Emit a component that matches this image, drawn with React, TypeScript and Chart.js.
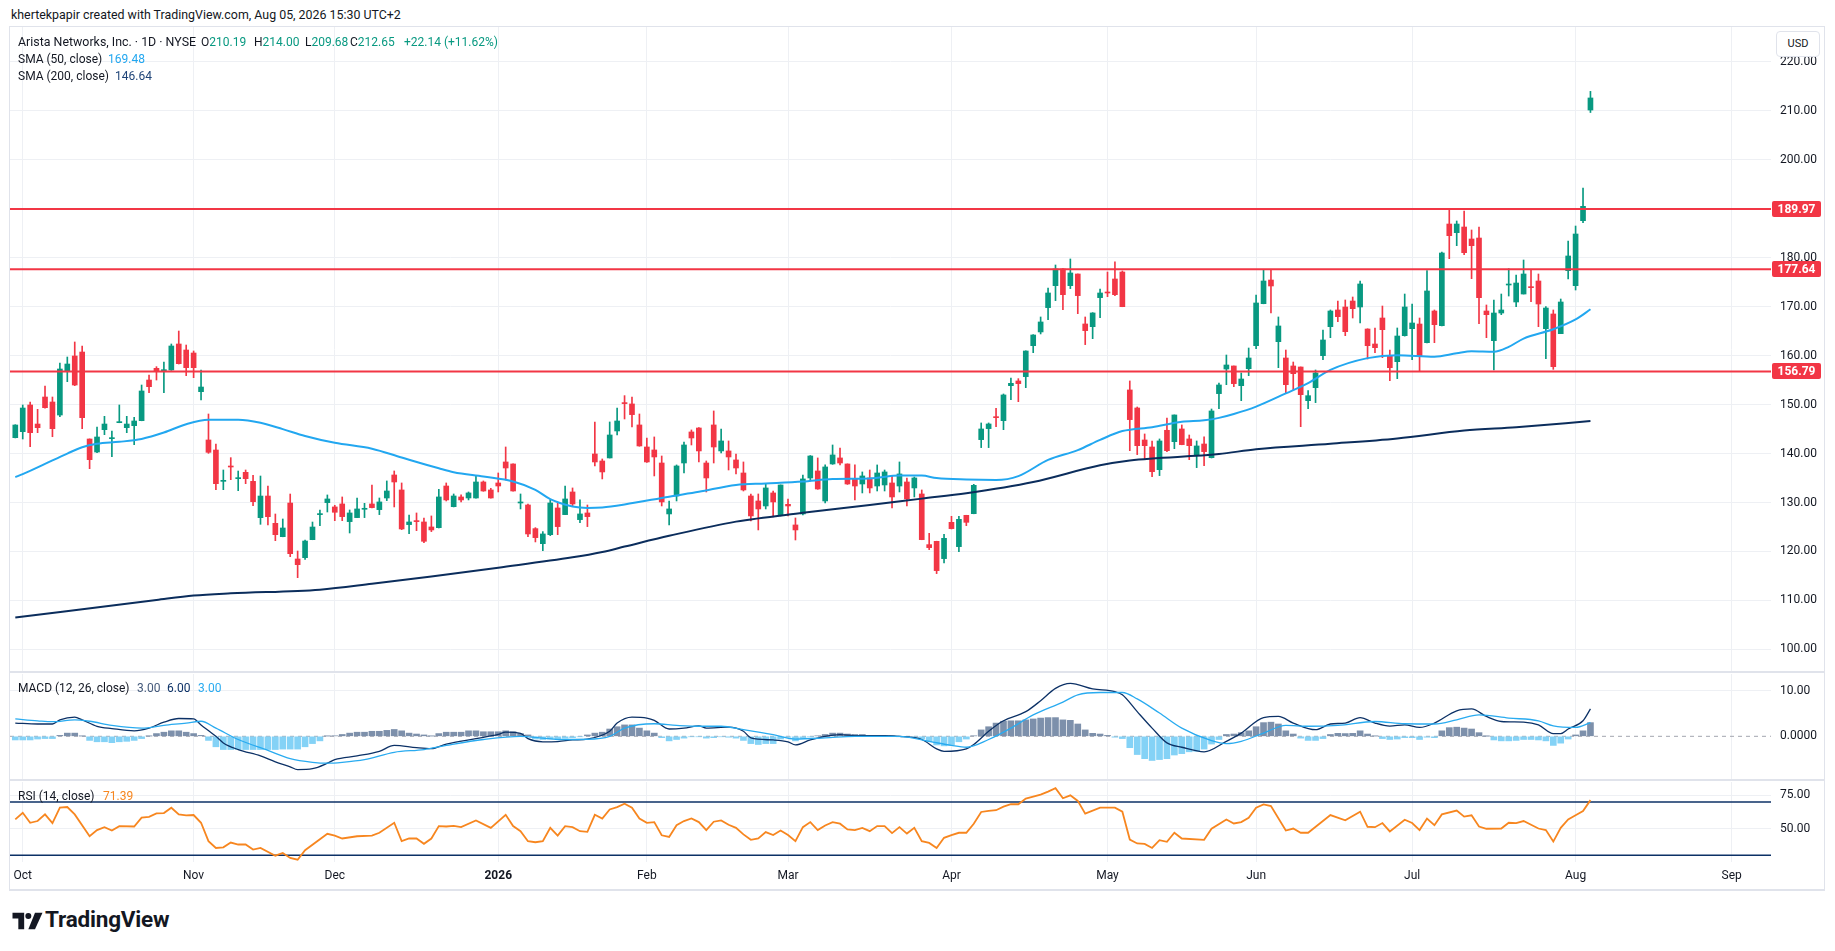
import React, { useEffect, useRef } from 'react';
import { Chart, registerables } from 'chart.js';

Chart.register(...registerables);

// ---------------- DATA ----------------
// One candle per trading day, index 0 = 2025-09-30 ... index 212 = 2026-08-05
const opens = [
  143.25, 144.48, 149.93, 146.04, 151.56, 150.54, 147.88, 156.87, 159.94, 160.75,
  142.98, 140.32, 144.89, 143.05, 146.32, 145.29, 145.70, 146.73, 155.03, 157.42,
  156.94, 157.08, 162.39, 161.16, 160.55, 152.65, 142.78, 140.73, 134.33, 137.46,
  134.88, 136.17, 134.33, 126.91, 131.33, 125.75, 123.03, 129.90, 118.47, 118.74,
  122.41, 127.53, 129.98, 129.10, 129.71, 126.10, 126.92, 128.62, 129.71, 128.55,
  130.93, 135.63, 132.57, 125.49, 126.30, 126.03, 125.01, 124.87, 133.38, 129.16,
  131.14, 130.93, 130.93, 134.20, 132.57, 134.00, 138.29, 137.88, 129.91, 129.50,
  124.67, 121.60, 123.44, 128.89, 127.53, 132.16, 126.51, 127.87, 139.92, 138.49,
  139.11, 144.62, 150.34, 150.14, 145.85, 141.35, 140.74, 138.08, 127.67, 131.34,
  138.08, 144.42, 145.23, 138.08, 145.85, 140.54, 140.54, 138.70, 136.04, 131.34,
  130.32, 129.30, 131.96, 127.46, 129.64, 125.42, 127.67, 135.02, 136.45, 130.32,
  137.88, 139.11, 137.88, 134.82, 133.79, 135.02, 133.38, 133.59, 134.00, 133.38,
  134.20, 132.98, 131.75, 121.40, 122.08, 118.54, 125.96, 120.99, 127.39, 127.73,
  142.85, 145.10, 147.48, 146.73, 153.88, 154.84, 155.72, 162.05, 164.85, 169.82,
  174.31, 177.72, 174.31, 176.69, 166.48, 165.93, 171.86, 172.95, 175.67, 177.10,
  153.00, 149.32, 142.78, 141.35, 136.72, 144.76, 142.44, 145.03, 142.99, 139.58,
  141.96, 139.17, 152.25, 157.28, 157.90, 153.88, 157.35, 162.05, 170.63, 175.46,
  162.87, 159.53, 157.90, 157.69, 150.81, 153.47, 160.01, 165.93, 169.34, 169.95,
  171.17, 169.95, 165.45, 162.39, 167.70, 159.94, 158.78, 164.09, 165.52, 166.47,
  162.66, 169.13, 166.13, 186.90, 185.13, 186.29, 183.84, 184.04, 169.13, 163.07,
  168.72, 174.44, 170.97, 172.60, 174.03, 175.26, 165.52, 168.52, 164.50, 177.37,
  174.31, 187.58, 210.19,
];
const highs = [
  145.90, 149.93, 150.54, 149.04, 153.81, 151.56, 158.50, 159.73, 162.80, 161.98,
  143.00, 145.43, 147.61, 144.61, 149.93, 147.61, 147.41, 154.01, 156.05, 157.76,
  158.71, 162.39, 165.04, 162.18, 160.96, 157.08, 148.09, 141.96, 136.65, 139.17,
  136.44, 136.65, 135.56, 135.42, 133.38, 127.66, 126.64, 131.74, 120.10, 122.35,
  126.02, 128.48, 131.55, 129.44, 131.14, 128.48, 130.93, 129.84, 133.59, 130.93,
  134.41, 136.45, 134.00, 127.46, 127.87, 126.85, 127.26, 132.70, 134.00, 131.75,
  131.55, 132.16, 135.36, 134.41, 132.91, 136.04, 141.35, 137.90, 131.75, 129.71,
  124.87, 124.06, 130.53, 129.91, 133.38, 132.98, 130.53, 129.50, 146.46, 138.90,
  146.46, 149.32, 151.84, 151.57, 148.09, 143.19, 143.40, 139.51, 130.32, 137.68,
  142.37, 144.83, 145.30, 138.49, 148.71, 145.03, 142.58, 139.92, 138.29, 131.75,
  131.75, 133.79, 132.36, 133.60, 130.73, 126.85, 135.63, 139.60, 139.11, 137.68,
  141.76, 141.15, 137.90, 137.68, 136.25, 136.65, 137.68, 136.65, 135.43, 138.29,
  135.02, 135.22, 132.57, 123.71, 122.10, 123.51, 127.19, 127.19, 127.40, 133.72,
  146.26, 146.26, 149.25, 152.18, 155.45, 155.31, 161.00, 164.30, 167.91, 173.83,
  178.53, 177.80, 179.76, 176.70, 167.91, 168.80, 173.63, 177.10, 179.15, 177.31,
  154.84, 149.52, 144.01, 142.58, 142.99, 147.28, 147.90, 145.85, 143.80, 142.58,
  143.40, 149.11, 154.43, 160.14, 157.90, 156.47, 161.57, 172.40, 177.51, 177.51,
  167.91, 161.16, 158.71, 157.70, 152.86, 157.08, 165.25, 169.34, 171.17, 171.38,
  171.99, 175.26, 165.50, 165.66, 170.15, 161.16, 165.66, 172.60, 170.56, 167.70,
  177.37, 169.34, 181.18, 189.76, 187.52, 189.56, 185.68, 186.29, 170.36, 171.38,
  172.60, 177.78, 176.49, 179.55, 177.51, 176.69, 170.01, 169.34, 171.58, 183.43,
  186.49, 194.26, 214.00,
];
const lows = [
  143.20, 142.98, 141.41, 144.27, 149.30, 143.45, 147.54, 154.69, 153.88, 145.09,
  136.92, 140.19, 143.86, 139.37, 146.30, 144.27, 141.82, 146.70, 152.45, 155.03,
  152.45, 157.00, 158.30, 155.92, 155.51, 150.95, 140.05, 132.63, 132.63, 134.67,
  132.42, 133.85, 129.36, 125.55, 125.41, 122.21, 123.00, 118.94, 114.65, 118.40,
  122.40, 125.28, 128.07, 126.30, 126.30, 123.78, 126.90, 126.92, 128.90, 127.53,
  130.39, 129.10, 124.46, 123.65, 124.26, 121.81, 124.06, 124.80, 130.32, 129.10,
  130.12, 130.53, 130.90, 132.30, 130.90, 132.16, 134.61, 132.30, 128.69, 123.03,
  121.95, 120.17, 123.24, 123.44, 127.50, 129.30, 125.89, 125.08, 137.47, 134.82,
  139.10, 143.80, 147.07, 145.44, 141.50, 138.20, 135.43, 129.30, 125.42, 130.32,
  136.04, 141.76, 138.29, 132.16, 138.08, 140.13, 136.65, 135.84, 132.36, 126.23,
  124.40, 128.69, 127.05, 127.26, 127.26, 122.35, 127.46, 134.41, 132.70, 129.91,
  137.80, 137.68, 133.70, 130.53, 131.96, 131.96, 132.36, 132.36, 128.89, 132.16,
  129.30, 131.14, 122.40, 120.38, 115.48, 117.65, 124.60, 119.97, 125.28, 127.70,
  141.22, 141.22, 145.51, 144.89, 151.02, 150.61, 153.47, 160.62, 164.44, 167.36,
  171.25, 169.41, 173.70, 168.59, 162.26, 163.48, 167.77, 172.06, 172.27, 170.00,
  140.60, 139.79, 138.76, 135.29, 135.50, 140.40, 141.01, 141.80, 138.76, 137.13,
  137.54, 139.10, 149.18, 154.08, 153.67, 150.81, 155.92, 161.44, 170.60, 168.72,
  157.55, 152.24, 153.06, 145.50, 149.18, 150.41, 159.19, 163.68, 166.95, 164.09,
  167.70, 166.68, 159.32, 160.62, 159.60, 154.90, 155.31, 164.00, 159.19, 156.94,
  162.60, 162.66, 166.10, 179.82, 182.48, 180.64, 175.74, 166.54, 163.68, 157.08,
  168.38, 172.19, 170.02, 172.60, 171.04, 165.93, 159.39, 157.21, 164.50, 175.67,
  173.42, 187.17, 209.68,
];
const closes = [
  145.84, 149.31, 144.27, 145.29, 149.38, 145.09, 157.28, 158.30, 154.01, 147.34,
  138.76, 143.39, 146.04, 143.18, 146.45, 146.04, 146.66, 152.79, 153.67, 156.94,
  157.08, 161.98, 158.37, 157.55, 157.55, 153.60, 140.26, 133.85, 134.54, 137.26,
  135.01, 134.88, 130.18, 131.33, 127.11, 123.44, 124.80, 119.55, 117.31, 122.14,
  125.00, 127.73, 130.73, 128.01, 127.12, 127.87, 128.69, 128.75, 128.96, 130.12,
  132.36, 134.20, 124.60, 126.03, 126.10, 122.08, 124.40, 131.14, 130.53, 131.34,
  130.53, 131.96, 134.20, 132.36, 130.93, 133.38, 137.06, 132.36, 130.05, 123.58,
  122.83, 123.58, 129.91, 125.08, 130.73, 129.71, 127.67, 127.12, 138.29, 136.25,
  143.80, 146.66, 150.21, 147.96, 141.56, 138.29, 139.31, 130.12, 128.69, 137.47,
  141.76, 143.19, 140.54, 135.02, 141.35, 142.58, 139.31, 137.06, 132.57, 127.26,
  128.69, 132.98, 130.12, 133.59, 129.30, 124.40, 134.82, 139.51, 132.77, 137.27,
  139.72, 138.08, 133.79, 133.38, 135.43, 132.98, 136.04, 136.25, 131.14, 135.84,
  130.73, 135.02, 122.42, 120.79, 116.09, 122.69, 124.67, 126.57, 125.96, 133.52,
  145.03, 146.05, 147.34, 151.98, 154.36, 154.29, 160.96, 164.23, 166.89, 172.81,
  177.72, 172.47, 176.90, 172.27, 165.12, 168.73, 172.81, 172.81, 172.47, 170.02,
  146.94, 141.62, 141.62, 136.31, 142.58, 140.60, 147.89, 141.83, 141.62, 141.56,
  140.40, 148.71, 154.02, 158.10, 154.29, 155.24, 159.53, 170.77, 175.26, 174.24,
  166.07, 154.08, 156.33, 152.04, 151.83, 156.47, 163.21, 169.13, 167.97, 164.91,
  169.61, 174.65, 162.05, 161.64, 165.32, 157.55, 164.02, 169.95, 166.68, 159.80,
  173.22, 166.34, 180.98, 184.52, 186.90, 181.05, 182.48, 171.85, 168.38, 168.72,
  169.34, 174.58, 174.85, 176.69, 173.90, 170.56, 169.74, 157.76, 170.97, 180.37,
  184.86, 190.51, 212.65,
];

// Moving averages: [candle index, value]
const sma50Points: [number, number][] = [
  [0, 135.2], [1, 135.8], [4, 137.9], [7, 140.0], [9, 141.3], [11, 142.0], [14, 142.4], [17, 143.0],
  [20, 144.3], [23, 146.0], [26, 146.9], [30, 146.9], [33, 146.3], [36, 145.0], [39, 143.6], [43, 142.2],
  [48, 141.0], [52, 139.2], [57, 137.0], [59, 136.2], [63, 135.3], [67, 134.3], [70, 132.6], [72, 130.7],
  [75, 129.2], [77, 128.9], [79, 129.0], [82, 129.6], [88, 131.2], [92, 132.2], [97, 133.6], [101, 133.9],
  [106, 134.3], [110, 134.8], [115, 134.9], [119, 135.5], [122, 135.5], [124, 135.0], [128, 134.7], [132, 134.6],
  [135, 135.4], [139, 138.7], [143, 140.7], [146, 142.8], [149, 144.6], [153, 145.4], [157, 146.5], [160, 146.8],
  [162, 147.3], [164, 148.1], [167, 149.6], [171, 152.3], [174, 154.4], [177, 157.1], [182, 159.5], [186, 160.1],
  [191, 159.8], [194, 160.5], [196, 160.9], [199, 160.8], [201, 161.8], [203, 163.5], [207, 165.4], [210, 167.4],
  [212, 169.48],
];
const sma200Points: [number, number][] = [
  [0, 106.5], [19, 110.1], [24, 111.0], [29, 111.45], [41, 112.2], [48, 113.4], [56, 114.9], [65, 116.7],
  [75, 118.8], [79, 119.9], [82, 121.0], [88, 123.2], [97, 126.1], [106, 127.9], [115, 129.5], [122, 130.8],
  [128, 131.9], [137, 134.2], [146, 137.6], [150, 138.6], [162, 139.9], [167, 140.9], [177, 142.0], [186, 143.1],
  [195, 144.7], [202, 145.4], [212, 146.64],
];

// MACD (12, 26, close)
const macdPoints: [number, number][] = [
  [0, 2.9], [3, 2.7], [5, 2.7], [6, 3.6], [8, 4.2], [9, 3.6], [11, 2.2], [13, 1.7], [16, 1.2], [18, 1.8],
  [20, 3.1], [22, 3.9], [24, 3.8], [25, 2.5], [27, 0], [28, -1.45], [30, -2.9], [33, -4.3], [35, -5.6], [37, -6.7],
  [38, -7.3], [40, -7.1], [42, -5.9], [43, -5.1], [46, -4.3], [49, -3.3], [51, -2.0], [54, -2.5], [56, -2.7], [58, -1.7],
  [62, -0.5], [65, 0.4], [66, 0.9], [68, 0.65], [69, -0.5], [71, -1.2], [73, -1.15], [75, -0.8], [77, -0.6], [80, 1.1],
  [81, 2.9], [83, 4.2], [85, 4.0], [86, 3.5], [88, 1.6], [90, 1.8], [92, 2.3], [93, 1.8], [96, 2.0], [98, 1.1],
  [99, -0.35], [102, -0.8], [104, -1.2], [105, -1.9], [107, -0.8], [109, 0], [111, 0.35], [113, 0.15], [117, 0.15], [119, 0],
  [122, -0.7], [124, -2.75], [125, -3.3], [128, -2.75], [129, -1.8], [131, 1.1], [133, 3.4], [136, 5.4], [138, 7.8], [140, 10.5],
  [142, 11.6], [145, 10.4], [148, 9.8], [149, 9.1], [151, 5.4], [153, 1.8], [155, -1.45], [157, -2.4], [160, -3.4], [163, -1.1],
  [165, 0.7], [168, 4.1], [170, 4.35], [172, 2.9], [175, 1.45], [177, 2.7], [179, 2.9], [181, 4.1], [183, 2.9], [185, 2.25],
  [187, 2.5], [189, 1.95], [191, 2.9], [194, 5.6], [196, 6.0], [198, 4.35], [200, 3.25], [203, 3.1], [205, 2.5], [207, 0.6],
  [208, 0.6], [209, 1.6], [211, 3.4], [212, 6.0],
];
const signalPoints: [number, number][] = [
  [0, 3.8], [3, 3.4], [5, 3.2], [8, 3.6], [10, 3.3], [13, 2.4], [17, 1.8], [20, 2.4], [23, 2.9], [25, 3.3],
  [27, 1.8], [30, -0.7], [34, -3.1], [37, -4.9], [40, -5.7], [42, -5.9], [44, -5.7], [47, -5.1], [51, -3.5], [55, -2.9],
  [58, -2.0], [63, -0.7], [68, 0], [71, -0.4], [73, -0.7], [77, -0.65], [80, 0], [82, 1.8], [86, 2.75], [89, 2.4],
  [92, 2.2], [95, 2.2], [98, 1.45], [102, 0.35], [105, -0.6], [109, -0.35], [113, 0], [119, 0], [123, -1.1], [126, -2.0],
  [128, -2.4], [131, -0.7], [134, 1.8], [137, 4.7], [141, 7.5], [143, 9.1], [146, 9.6], [149, 9.6], [151, 8.2], [154, 5.1],
  [157, 1.8], [161, -0.95], [163, -1.6], [165, -1.1], [168, 0.7], [171, 2.4], [174, 2.2], [178, 2.4], [183, 3.25], [187, 2.75],
  [191, 2.7], [194, 3.6], [197, 4.7], [201, 4.0], [205, 3.4], [207, 2.3], [210, 1.95], [212, 3.0],
];
const histValues = [
  -0.8, -0.8, -0.8, -0.6, -0.5, -0.5, 0.2, 0.7, 0.7, 0.05,
  -0.9, -1.2, -1.2, -1.4, -1.2, -1.1, -0.9, -0.5, 0.05, 0.6,
  0.9, 1.2, 1.2, 0.9, 0.6, 0.2, -0.9, -2.3, -2.9, -2.9,
  -2.9, -2.9, -2.9, -2.9, -2.9, -2.9, -2.8, -2.8, -2.8, -2.3,
  -1.6, -1.0, 0.05, 0.1, 0.4, 0.7, 0.9, 0.9, 1.1, 1.1,
  1.3, 1.5, 1.2, 0.7, 0.5, 0.3, 0.05, 0.6, 0.9, 0.9,
  0.9, 1.2, 1.2, 1.0, 1.0, 1.0, 1.2, 1.0, 0.6, 0.3,
  -0.6, -0.7, -0.6, -0.5, -0.4, -0.3, -0.1, 0.3, 0.7, 0.9,
  1.6, 2.1, 2.5, 2.5, 1.8, 1.2, 0.7, -0.3, -1.0, -0.7,
  -0.4, -0.1, -0.1, -0.4, -0.3, -0.1, -0.2, -0.4, -0.9, -1.6,
  -1.8, -1.6, -1.6, -0.6, -0.2, -1.0, -0.4, -0.1, 0.1, 0.4,
  0.7, 0.7, 0.5, 0.4, 0.4, 0.2, 0.02, 0.1, 0.02, -0.1,
  -0.2, -0.2, -0.6, -1.2, -1.9, -2.1, -1.9, -1.2, -0.6, 0.1,
  1.4, 2.1, 2.9, 3.3, 3.4, 3.4, 3.6, 3.8, 4.0, 4.1,
  4.1, 3.6, 3.5, 2.7, 1.4, 0.65, 0.5, 0.2, -0.2, -0.5,
  -2.5, -4.0, -4.9, -5.3, -5.1, -4.9, -4.1, -3.8, -3.4, -3.3,
  -2.8, -1.7, -0.7, 0.4, 0.5, 0.8, 1.2, 2.1, 3.0, 3.1,
  2.7, 1.2, 0.5, -0.4, -0.9, -0.9, -0.5, 0.4, 0.65, 0.6,
  0.65, 1.2, 0.5, 0.05, -0.5, -0.7, -0.6, -0.3, -0.3, -0.7,
  -0.2, -0.3, 1.2, 1.9, 2.0, 1.8, 1.6, 0.8, 0.02, -0.8,
  -1.0, -1.0, -0.9, -0.7, -0.7, -0.8, -1.0, -2.0, -1.5, -0.6,
  0.3, 1.2, 3.0,
];

// RSI (14, close)
const rsiPoints: [number, number][] = [
  [0, 57], [1, 61.9], [2, 54.4], [3, 55.7], [4, 60.7], [5, 54.2], [6, 65.7], [7, 66.2], [8, 60.7], [10, 44.3],
  [11, 48.9], [12, 51.1], [13, 48.6], [14, 51.9], [16, 51.6], [17, 58.2], [18, 58.9], [19, 61.4], [20, 61.7], [21, 65.7],
  [22, 60.7], [23, 59.9], [24, 60.2], [25, 54.4], [26, 40.6], [27, 35.5], [28, 36.0], [29, 39.6], [30, 38.1], [31, 38.1],
  [32, 34.3], [33, 35.5], [35, 29.7], [36, 31.8], [37, 28.0], [38, 26.7], [39, 33.8], [42, 46.1], [43, 44.8], [44, 42.6],
  [46, 44.3], [48, 44.8], [49, 46.9], [51, 54.4], [52, 40.6], [53, 42.6], [54, 42.6], [55, 38.6], [56, 42.6], [57, 51.9],
  [58, 51.6], [59, 52.1], [60, 51.1], [62, 56.2], [64, 50.6], [66, 60.4], [67, 51.9], [68, 48.1], [69, 40.6], [70, 39.8],
  [71, 40.6], [72, 50.6], [73, 44.8], [74, 51.9], [75, 51.1], [76, 48.1], [77, 47.6], [78, 60.4], [79, 57.6], [80, 64.4],
  [81, 66.2], [82, 68.7], [83, 65.7], [84, 57.6], [85, 54.4], [86, 54.9], [87, 45.0], [88, 43.8], [89, 52.6], [90, 55.7],
  [91, 57.6], [92, 54.9], [93, 48.9], [94, 55.2], [95, 56.2], [96, 52.9], [97, 50.6], [98, 45.7], [99, 41.6], [100, 42.6],
  [101, 47.4], [102, 45.2], [103, 48.6], [104, 45.2], [105, 40.6], [106, 51.1], [107, 54.9], [108, 48.9], [109, 52.4], [110, 54.9],
  [111, 53.7], [112, 49.4], [113, 48.9], [114, 50.6], [115, 48.1], [116, 51.9], [117, 51.9], [118, 46.6], [119, 51.1], [120, 46.3],
  [121, 50.6], [122, 40.6], [123, 39.3], [124, 35.5], [125, 43.1], [126, 45.2], [127, 46.9], [128, 46.9], [129, 53.7], [130, 62.5],
  [131, 63.3], [132, 63.8], [133, 66.5], [134, 68.3], [135, 68.3], [136, 72.5], [137, 74.0], [138, 75.5], [139, 77.8], [140, 80.3],
  [141, 72.8], [142, 75.0], [143, 70.8], [144, 61.2], [146, 65.7], [148, 65.7], [149, 62.7], [150, 41.8], [151, 38.9], [152, 38.6],
  [153, 35.5], [154, 41.3], [155, 40.1], [156, 46.9], [157, 42.6], [160, 41.6], [161, 49.9], [163, 56.9], [164, 53.9], [165, 54.9],
  [166, 58.2], [167, 65.7], [168, 68.2], [169, 66.9], [171, 48.6], [172, 50.1], [173, 46.9], [174, 46.9], [177, 60.2], [179, 56.2],
  [181, 62.7], [182, 51.4], [183, 51.1], [184, 54.2], [185, 47.9], [187, 56.7], [188, 54.2], [189, 48.9], [190, 57.6], [191, 52.6],
  [192, 60.7], [194, 63.6], [195, 59.0], [196, 60.0], [197, 51.6], [198, 49.9], [200, 50.1], [201, 54.4], [202, 54.2], [203, 55.7],
  [205, 50.1], [206, 48.9], [207, 40.3], [208, 50.6], [209, 56.9], [210, 60.0], [211, 63.2], [212, 71.39],
];

const priceLevels = [189.97, 177.64, 156.79];
const rsiBands = [70, 30];
const monthTickIdx = [1, 24, 43, 65, 85, 104, 126, 147, 167, 188, 210, 231];
const monthTickLabels = ['Oct', 'Nov', 'Dec', '2026', 'Feb', 'Mar', 'Apr', 'May', 'Jun', 'Jul', 'Aug', 'Sep'];
const priceTicks = [100, 110, 120, 130, 140, 150, 160, 170, 180, 190, 200, 210, 220];
const macdTicks = [0, 10];
const rsiTicks = [50, 75];

// ---------------- STYLE ----------------
const FONT = "Roboto, 'Liberation Sans', Arial, sans-serif";
const TEXT = '#131722';
const GREEN = '#089981';
const RED = '#f23645';
const GRID = '#eef0f4';
const SEP = '#e0e3eb';
const SMA50_C = '#22a7f0';
const SMA200_C = '#0b2d5c';
const MACD_C = '#0c3166';
const SIGNAL_C = '#29abf0';
const HIST_POS = '#7d90ab';
const HIST_NEG = '#84d2f6';
const RSI_C = '#f7861f';
const BAND_C = '#0c3166';

const X_MIN = -0.713;
const X_MAX = 236.3;
const AXIS_W = 53;

function xScale(showLabels: boolean): any {
  return {
    type: 'linear',
    position: 'bottom',
    min: X_MIN,
    max: X_MAX,
    offset: false,
    bounds: 'data',
    grid: { color: GRID, lineWidth: 1, drawTicks: false, offset: false },
    border: { display: false },
    afterBuildTicks: (s: any) => {
      s.ticks = monthTickIdx.map((v) => ({ value: v }));
    },
    ticks: {
      display: showLabels,
      autoSkip: false,
      maxRotation: 0,
      padding: 7,
      color: TEXT,
      font: (ctx: any) => ({
        family: FONT,
        size: 12,
        weight: monthTickLabels[ctx.index] === '2026' ? 'bold' : 'normal',
      }),
      callback: (_v: any, i: number) => monthTickLabels[i],
    },
    afterFit: (s: any) => {
      s.height = showLabels ? 28 : 0;
      s.paddingLeft = 0;
      s.paddingRight = 0;
    },
  };
}

function yScale(min: number, max: number, ticks: number[], fmt: (v: number) => string, hideZeroGrid = false): any {
  return {
    type: 'linear',
    position: 'right',
    min,
    max,
    offset: false,
    beginAtZero: false,
    grid: {
      color: (ctx: any) => (hideZeroGrid && ctx.tick && ctx.tick.value === 0 ? 'rgba(0,0,0,0)' : GRID),
      drawTicks: false,
    },
    border: { display: false },
    afterBuildTicks: (s: any) => {
      s.ticks = ticks.map((v) => ({ value: v }));
    },
    ticks: {
      autoSkip: false,
      color: TEXT,
      padding: 9,
      font: { family: FONT, size: 12 },
      callback: (v: any) => fmt(Number(v)),
    },
    afterFit: (s: any) => {
      s.width = AXIS_W;
      s.paddingTop = 0;
      s.paddingBottom = 0;
    },
  };
}

const baseOptions = {
  responsive: false,
  maintainAspectRatio: false,
  animation: false as const,
  events: [] as any[],
  layout: { padding: 0 },
  plugins: { legend: { display: false }, tooltip: { enabled: false } },
};

const priceLabelPlugin = {
  id: 'priceLabels',
  afterDraw(chart: any) {
    const { ctx, chartArea, scales } = chart;
    const y = scales.y;
    ctx.save();
    priceLevels.forEach((v) => {
      const py = Math.round(y.getPixelForValue(v));
      const x0 = chartArea.right + 1;
      ctx.fillStyle = RED;
      ctx.beginPath();
      ctx.roundRect(x0, py - 8, 49, 16, 2);
      ctx.fill();
      ctx.fillStyle = '#ffffff';
      ctx.font = `bold 12px ${FONT}`;
      ctx.textAlign = 'center';
      ctx.textBaseline = 'middle';
      ctx.fillText(v.toFixed(2), x0 + 24.5, py + 0.5);
    });
    ctx.restore();
  },
};

const toXY = (pts: [number, number][]) => pts.map(([x, y]) => ({ x, y }));
const hLine = (v: number) => [{ x: X_MIN, y: v }, { x: X_MAX, y: v }];

export default function App() {
  const mainRef = useRef<HTMLCanvasElement>(null);
  const macdRef = useRef<HTMLCanvasElement>(null);
  const rsiRef = useRef<HTMLCanvasElement>(null);

  useEffect(() => {
    document.body.style.margin = '0';
    const idx = opens.map((_, i) => i);
    const candleColors = idx.map((i) => (closes[i] >= opens[i] ? GREEN : RED));
    const charts: Chart[] = [];

    charts.push(
      new Chart(mainRef.current as HTMLCanvasElement, {
        type: 'bar',
        data: {
          datasets: [
            ...priceLevels.map((lvl) => ({
              type: 'line' as const,
              data: hLine(lvl),
              borderColor: RED,
              borderWidth: 2,
              pointRadius: 0,
              order: 0,
            })),
            {
              type: 'line' as const,
              data: toXY(sma50Points),
              borderColor: SMA50_C,
              borderWidth: 2,
              pointRadius: 0,
              cubicInterpolationMode: 'monotone' as const,
              order: 1,
            },
            {
              type: 'line' as const,
              data: toXY(sma200Points),
              borderColor: SMA200_C,
              borderWidth: 2,
              pointRadius: 0,
              cubicInterpolationMode: 'monotone' as const,
              order: 1,
            },
            {
              type: 'bar' as const,
              data: idx.map((i) => ({ x: i, y: [opens[i], closes[i]] })) as any,
              backgroundColor: candleColors,
              barThickness: 5,
              minBarLength: 1,
              grouped: false,
              order: 2,
            },
            {
              type: 'bar' as const,
              data: idx.map((i) => ({ x: i, y: [lows[i], highs[i]] })) as any,
              backgroundColor: candleColors,
              barThickness: 1,
              grouped: false,
              order: 3,
            },
          ] as any,
        },
        options: {
          ...baseOptions,
          scales: {
            x: xScale(false),
            y: yScale(95.38, 227.15, priceTicks, (v) => v.toFixed(2)),
          },
        } as any,
        plugins: [priceLabelPlugin],
      })
    );

    charts.push(
      new Chart(macdRef.current as HTMLCanvasElement, {
        type: 'bar',
        data: {
          datasets: [
            {
              type: 'line' as const,
              data: toXY(signalPoints),
              borderColor: SIGNAL_C,
              borderWidth: 1.3,
              pointRadius: 0,
              cubicInterpolationMode: 'monotone' as const,
              order: 0,
            },
            {
              type: 'line' as const,
              data: toXY(macdPoints),
              borderColor: MACD_C,
              borderWidth: 1.3,
              pointRadius: 0,
              cubicInterpolationMode: 'monotone' as const,
              order: 1,
            },
            {
              type: 'bar' as const,
              data: idx.map((i) => ({ x: i, y: histValues[i] })) as any,
              backgroundColor: idx.map((i) => (histValues[i] >= 0 ? HIST_POS : HIST_NEG)),
              barThickness: 6,
              grouped: false,
              order: 2,
            },
            {
              type: 'line' as const,
              data: hLine(0),
              borderColor: '#a3a6af',
              borderWidth: 1,
              borderDash: [4, 4],
              pointRadius: 0,
              order: 3,
            },
          ] as any,
        },
        options: {
          ...baseOptions,
          scales: {
            x: xScale(false),
            y: yScale(-9.36, 13.66, macdTicks, (v) => (v === 0 ? '0.0000' : v.toFixed(2)), true),
          },
        } as any,
      })
    );

    charts.push(
      new Chart(rsiRef.current as HTMLCanvasElement, {
        type: 'line',
        data: {
          datasets: [
            ...rsiBands.map((b) => ({
              data: hLine(b),
              borderColor: BAND_C,
              borderWidth: 1.5,
              pointRadius: 0,
              order: 1,
            })),
            {
              data: toXY(rsiPoints),
              borderColor: RSI_C,
              borderWidth: 1.8,
              pointRadius: 0,
              order: 0,
            },
          ] as any,
        },
        options: {
          ...baseOptions,
          scales: {
            x: xScale(true),
            y: yScale(24.98, 84.98, rsiTicks, (v) => v.toFixed(2)),
          },
        } as any,
      })
    );

    return () => charts.forEach((c) => c.destroy());
  }, []);

  const last = opens.length - 1;
  const chg = closes[last] - closes[last - 1];
  const pct = (chg / closes[last - 1]) * 100;
  const txt: React.CSSProperties = {
    position: 'absolute',
    fontSize: 12,
    lineHeight: '16px',
    whiteSpace: 'nowrap',
    color: TEXT,
  };
  const ohlc = [
    { k: 'O', v: opens[last], x: 201 },
    { k: 'H', v: highs[last], x: 254 },
    { k: 'L', v: lows[last], x: 305 },
    { k: 'C', v: closes[last], x: 350 },
  ];

  return (
    <div
      style={{
        position: 'absolute',
        left: 0,
        top: 0,
        width: 1835,
        height: 951,
        background: '#ffffff',
        overflow: 'hidden',
        fontFamily: FONT,
      }}
    >
      <div style={{ ...txt, left: 11, top: 7, fontSize: 12.4 }}>
        khertekpapir created with TradingView.com, Aug 05, 2026 15:30 UTC+2
      </div>

      {/* panel border */}
      <div
        style={{
          position: 'absolute',
          left: 9,
          top: 26,
          width: 1814,
          height: 863,
          border: `1px solid ${SEP}`,
        }}
      />

      <canvas
        ref={mainRef}
        width={1814}
        height={645}
        style={{ position: 'absolute', left: 10, top: 27, width: 1814, height: 645 }}
      />
      <canvas
        ref={macdRef}
        width={1814}
        height={105}
        style={{ position: 'absolute', left: 10, top: 674, width: 1814, height: 105 }}
      />
      <canvas
        ref={rsiRef}
        width={1814}
        height={108}
        style={{ position: 'absolute', left: 10, top: 782, width: 1814, height: 108 }}
      />

      {/* pane separators */}
      <div style={{ position: 'absolute', left: 9, top: 671, width: 1816, height: 2, background: SEP }} />
      <div style={{ position: 'absolute', left: 9, top: 779, width: 1816, height: 2, background: SEP }} />
      <div style={{ position: 'absolute', left: 9, top: 889, width: 1816, height: 2, background: SEP }} />

      {/* USD box */}
      <div
        style={{
          position: 'absolute',
          left: 1776,
          top: 31,
          width: 42,
          height: 24,
          border: `1px solid ${SEP}`,
          borderRadius: 4,
          background: '#ffffff',
          fontSize: 11,
          lineHeight: '24px',
          textAlign: 'center',
          color: TEXT,
        }}
      >
        USD
      </div>

      {/* main legend */}
      <div style={{ ...txt, left: 18, top: 34, fontSize: 12.4 }}>Arista Networks, Inc. · 1D · NYSE</div>
      {ohlc.map((o) => (
        <div key={o.k} style={{ ...txt, left: o.x, top: 34 }}>
          <span>{o.k}</span>
          <span style={{ color: GREEN }}>{o.v.toFixed(2)}</span>
        </div>
      ))}
      <div style={{ ...txt, left: 404, top: 34, color: GREEN }}>
        {`+${chg.toFixed(2)} (+${pct.toFixed(2)}%)`}
      </div>
      <div style={{ ...txt, left: 18, top: 51 }}>SMA (50, close)</div>
      <div style={{ ...txt, left: 108, top: 51, color: SMA50_C }}>
        {sma50Points[sma50Points.length - 1][1].toFixed(2)}
      </div>
      <div style={{ ...txt, left: 18, top: 68 }}>SMA (200, close)</div>
      <div style={{ ...txt, left: 115, top: 68, color: '#1f4478' }}>
        {sma200Points[sma200Points.length - 1][1].toFixed(2)}
      </div>

      {/* MACD legend */}
      <div style={{ ...txt, left: 18, top: 680 }}>MACD (12, 26, close)</div>
      <div style={{ ...txt, left: 137, top: 680, color: '#44597a' }}>
        {histValues[histValues.length - 1].toFixed(2)}
      </div>
      <div style={{ ...txt, left: 167, top: 680, color: MACD_C }}>
        {macdPoints[macdPoints.length - 1][1].toFixed(2)}
      </div>
      <div style={{ ...txt, left: 198, top: 680, color: SIGNAL_C }}>
        {signalPoints[signalPoints.length - 1][1].toFixed(2)}
      </div>

      {/* RSI legend */}
      <div style={{ ...txt, left: 18, top: 788 }}>RSI (14, close)</div>
      <div style={{ ...txt, left: 103, top: 788, color: RSI_C }}>
        {rsiPoints[rsiPoints.length - 1][1].toFixed(2)}
      </div>

      {/* TradingView logo */}
      <svg
        width={31}
        height={20}
        viewBox="0 0 36 24"
        style={{ position: 'absolute', left: 12, top: 911 }}
      >
        <path d="M0 2h14v20H7V9H0z" fill={TEXT} />
        <circle cx="19" cy="6" r="3.6" fill={TEXT} />
        <path d="M27 2h9l-9 20h-8z" fill={TEXT} />
      </svg>
      <div
        style={{
          position: 'absolute',
          left: 45,
          top: 906,
          fontSize: 22.5,
          fontWeight: 700,
          lineHeight: '27px',
          letterSpacing: -0.2,
          color: TEXT,
          whiteSpace: 'nowrap',
        }}
      >
        TradingView
      </div>
    </div>
  );
}
